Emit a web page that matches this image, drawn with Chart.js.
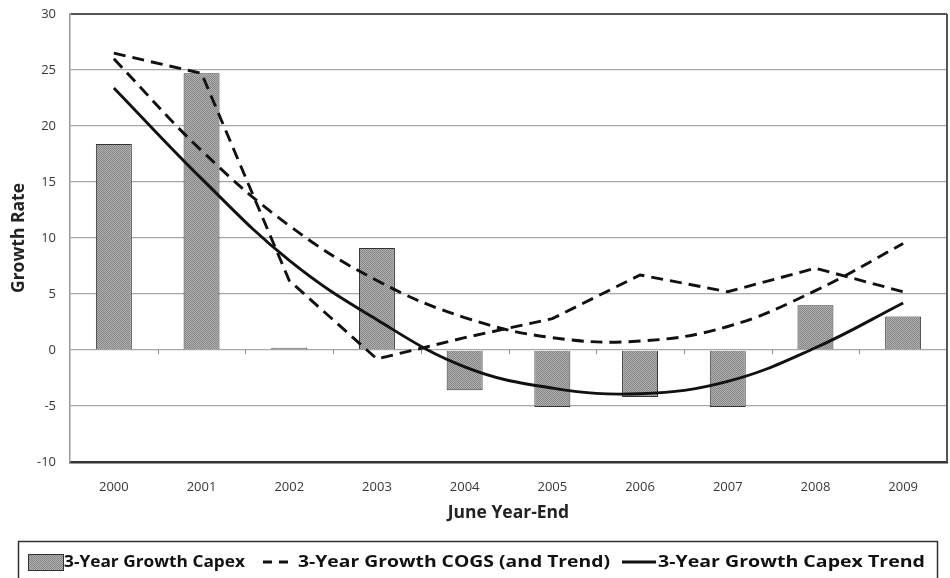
<!DOCTYPE html>
<html><head><meta charset="utf-8">
<script src="https://cdn.jsdelivr.net/npm/chart.js@4.4.0/dist/chart.umd.min.js"></script>
<style>html,body{margin:0;padding:0;background:#fff;}#wrap{width:950px;height:578px;position:relative;}</style>
</head><body><div id="wrap"><canvas id="c"></canvas></div>
<script>
const years = ['2000','2001','2002','2003','2004','2005','2006','2007','2008','2009'];
const capexGrowth = [18.4, 24.7, 0.2, 9.1, -3.6, -5.1, -4.2, -5.1, 4.0, 3.0];
const cogsGrowth  = [26.5, 24.7, 6.2, -0.8, 1.1, 2.8, 6.7, 5.2, 7.3, 5.2];
const cogsTrend   = [26.0, 17.8, 11.1, 6.2, 2.9, 1.1, 0.8, 2.1, 5.3, 9.5];
const capexTrend  = [23.4, 15.3, 8.0, 2.7, -1.5, -3.4, -3.9, -2.8, 0.2, 4.2];
const yTicks = [30, 25, 20, 15, 10, 5, 0, -5, -10];
const seriesLabels = ['3-Year Growth Capex', '3-Year Growth COGS (and Trend)', '3-Year Growth Capex Trend'];
const xTitle = 'June Year-End';
const yTitle = 'Growth Rate';

const FONT = '"Open Sans", "Noto Sans", sans-serif';

const mctx = document.createElement('canvas').getContext('2d');
function fitSize(text, weight, target){
  mctx.font = weight + ' 20px ' + FONT;
  return 20 * target / mctx.measureText(text).width;
}
const titleSize = (fitSize(xTitle, 'bold', 116) + fitSize(yTitle, 'bold', 115)) / 2;
const tickSize = 13;

function makeHatch(ctx){
  const p = document.createElement('canvas'); p.width = 2; p.height = 2;
  const g = p.getContext('2d');
  g.fillStyle = '#b0b0b0'; g.fillRect(0,0,2,2);
  g.fillStyle = '#868686'; g.fillRect(0,0,1,1); g.fillRect(1,1,1,1);
  return ctx.createPattern(p, 'repeat');
}

const canvas = document.getElementById('c');
const hatch = makeHatch(canvas.getContext('2d'));

const framePlugin = {
  id: 'frame',
  afterDatasetsDraw(chart){
    const {ctx, chartArea, scales} = chart;
    ctx.save();
    ctx.strokeStyle = '#555'; ctx.lineWidth = 2;
    ctx.beginPath(); ctx.moveTo(chartArea.right, chartArea.top); ctx.lineTo(chartArea.right, chartArea.bottom); ctx.stroke();
    const y0 = scales.y.getPixelForValue(0);
    ctx.strokeStyle = '#888'; ctx.lineWidth = 1;
    for (let i = 1; i < years.length; i++) {
      const x = Math.round((scales.x.getPixelForTick(i-1) + scales.x.getPixelForTick(i)) / 2) + 0.5;
      ctx.beginPath(); ctx.moveTo(x, y0); ctx.lineTo(x, y0 + 4); ctx.stroke();
    }
    ctx.restore();
  }
};

const legendPlugin = {
  id: 'boxLegend',
  afterDraw(chart){
    const ctx = chart.ctx;
    ctx.save();
    ctx.strokeStyle = '#333'; ctx.lineWidth = 1.5;
    ctx.strokeRect(18.5, 541.5, 919, 60);
    const items = [ {x:64, w:181}, {x:298, w:312}, {x:658, w:267} ];
    const size = 16.5;
    ctx.font = 'bold ' + size + 'px ' + FONT;
    ctx.textBaseline = 'middle'; ctx.textAlign = 'left';
    const cy = 562;
    ctx.fillStyle = hatch; ctx.fillRect(28, 554, 35, 16);
    ctx.strokeStyle = '#333'; ctx.lineWidth = 1; ctx.strokeRect(28.5, 554.5, 35, 16);
    ctx.strokeStyle = '#111'; ctx.lineWidth = 3; ctx.setLineDash([9,7]);
    ctx.beginPath(); ctx.moveTo(263, cy); ctx.lineTo(291, cy); ctx.stroke();
    ctx.setLineDash([]);
    ctx.beginPath(); ctx.moveTo(622, cy); ctx.lineTo(656, cy); ctx.stroke();
    ctx.fillStyle = '#111';
    seriesLabels.forEach((t, i) => {
      const w = ctx.measureText(t).width;
      ctx.save();
      ctx.translate(items[i].x, cy);
      ctx.scale(items[i].w / w, 1);
      ctx.fillText(t, 0, 0);
      ctx.restore();
    });
    ctx.restore();
  }
};

new Chart(canvas, {
  data: {
    labels: years,
    datasets: [
      { type:'bar', label: seriesLabels[0], data: capexGrowth, backgroundColor: hatch,
        borderColor:'#333', borderWidth:1, barPercentage:0.41, categoryPercentage:1, order:4 },
      { type:'line', label: seriesLabels[1], data: cogsGrowth, borderColor:'#111', borderWidth:2.9,
        borderDash:[12,7], pointRadius:0, tension:0, fill:false, order:1 },
      { type:'line', label: seriesLabels[1] + ' trend', data: cogsTrend, borderColor:'#111', borderWidth:2.9,
        borderDash:[12,7], pointRadius:0, tension:0.4, fill:false, order:2 },
      { type:'line', label: seriesLabels[2], data: capexTrend, borderColor:'#111', borderWidth:2.9,
        pointRadius:0, tension:0.4, fill:false, order:3 }
    ]
  },
  options: {
    responsive:true, maintainAspectRatio:false, animation:false,
    layout:{ padding:{ left:0, right:3, top:14, bottom:54 } },
    plugins:{ legend:{ display:false }, tooltip:{ enabled:false } },
    scales:{
      x:{
        type:'category',
        grid:{ display:false, drawTicks:false },
        border:{ display:true, color:'#333', width:2.5 },
        ticks:{ font:{ family:FONT, size:tickSize }, color:'#383838', padding:17, maxRotation:0 },
        title:{ display:true, text:xTitle, font:{ family:FONT, size:titleSize, weight:'bold' }, color:'#222', padding:{top:0,bottom:0} },
        afterFit(s){ s.height = 62; s.paddingLeft = 0; s.paddingRight = 0; }
      },
      y:{
        min:-10, max:30,
        afterBuildTicks(s){ s.ticks = yTicks.map(v=>({value:v})); },
        grid:{ color: c => c.tick && c.tick.value === 30 ? '#555' : '#a8a8a8',
               lineWidth: c => c.tick && c.tick.value === 30 ? 2 : 1.3, drawTicks:false },
        border:{ display:true, color:'#999', width:1.5 },
        ticks:{ font:{ family:FONT, size:tickSize }, color:'#383838', padding:14 },
        title:{ display:true, text:yTitle, font:{ family:FONT, size:titleSize, weight:'bold' }, color:'#222', padding:{top:9,bottom:0} },
        afterFit(s){ s.width = 70; s.paddingTop = 8; s.paddingBottom = 8; }
      }
    }
  },
  plugins:[framePlugin, legendPlugin]
});
</script>
</body></html>
